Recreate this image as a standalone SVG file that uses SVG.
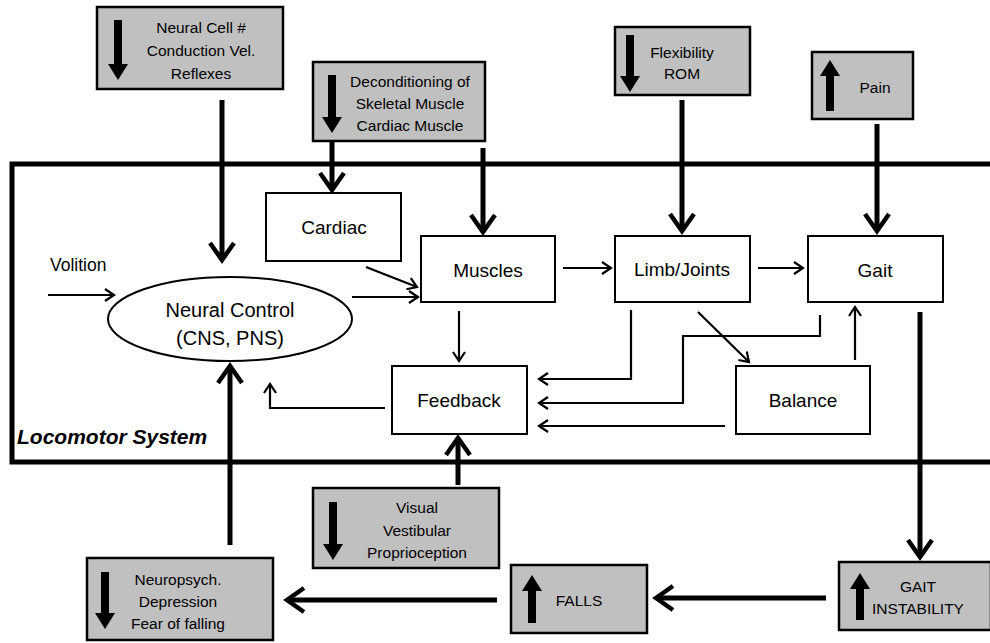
<svg xmlns="http://www.w3.org/2000/svg" width="990" height="643" viewBox="0 0 990 643">
  <defs>
    <style>
      text { font-family: "Liberation Sans", Arial, sans-serif; fill: #000; text-anchor: middle; }
      .gray { fill: #c0c0c0; stroke: #000; stroke-width: 2.5; }
      .box { fill: #fff; stroke: #000; stroke-width: 2; }
      .big { font-size: 19px; }
      .small { font-size: 15.5px; }
      .block { fill: #000; stroke: none; }
      .thick { fill: none; stroke: #000; stroke-width: 5; marker-end: url(#headThick); }
      .thin { fill: none; stroke: #000; stroke-width: 2.2; marker-end: url(#headThin); }
      .frame { fill: none; stroke: #000; stroke-width: 5; }
    </style>
    <marker id="headThick" viewBox="0 0 26 28" refX="20" refY="14" markerWidth="26" markerHeight="28" markerUnits="userSpaceOnUse" orient="auto">
      <path d="M3,2 L20,14 L3,26" fill="none" stroke="#000" stroke-width="4.5"/>
    </marker>
    <marker id="headThin" viewBox="0 0 14 16" refX="11" refY="8" markerWidth="14" markerHeight="16" markerUnits="userSpaceOnUse" orient="auto">
      <path d="M2,2 L11,8 L2,14" fill="none" stroke="#000" stroke-width="2.2"/>
    </marker>
  </defs>

  <!-- Locomotor system frame -->
  <rect class="frame" x="12" y="164" width="990" height="298"/>
  <text x="17" y="444" style="font-size:21px;font-weight:bold;font-style:italic;text-anchor:start">Locomotor System</text>

  <!-- connectors -->
  <g id="connectors">
    <path class="thick" d="M222,100 V260"/>
    <path class="thick" d="M332,141 V190"/>
    <path class="thick" d="M483,148 V232"/>
    <path class="thick" d="M682,100 V231"/>
    <path class="thick" d="M877,124 V231"/>
    <path class="thick" d="M920,312 V557"/>
    <path class="thick" d="M826,598 H656"/>
    <path class="thick" d="M497,600 H287"/>
    <path class="thick" d="M230,545 V366"/>
    <path class="thick" d="M458,485 V438"/>

    <path class="thin" d="M48,295 H114"/>
    <path class="thin" d="M366,267 L417,287"/>
    <path class="thin" d="M352,297 H418"/>
    <path class="thin" d="M563,268 H611"/>
    <path class="thin" d="M758,268 H803"/>
    <path class="thin" d="M459,311 V361"/>
    <path class="thin" d="M631,310 V379 H539"/>
    <path class="thin" d="M820,315 V336 H683 V403 H539"/>
    <path class="thin" d="M698,312 L749,362"/>
    <path class="thin" d="M855,360 V307"/>
    <path class="thin" d="M725,426 H539"/>
    <path class="thin" d="M385,408 H270 V384"/>
  </g>
  <text x="50" y="271" style="text-anchor:start;font-size:17.5px">Volition</text>

  <!-- locomotor components -->
  <g id="neural">
    <ellipse cx="230" cy="319" rx="122" ry="42" fill="#fff" stroke="#000" stroke-width="2"/>
    <text x="230" y="317" style="font-size:20px">Neural Control</text>
    <text x="230" y="345" style="font-size:20px">(CNS, PNS)</text>
  </g>
  <g id="cardiac">
    <rect class="box" x="266" y="193" width="135" height="68"/>
    <text x="334" y="234" class="big">Cardiac</text>
  </g>
  <g id="muscles">
    <rect class="box" x="421" y="236" width="134" height="66"/>
    <text x="488" y="277" class="big">Muscles</text>
  </g>
  <g id="limbs">
    <rect class="box" x="615" y="236" width="135" height="66"/>
    <text x="682" y="276" class="big">Limb/Joints</text>
  </g>
  <g id="gait">
    <rect class="box" x="808" y="236" width="135" height="66"/>
    <text x="875" y="277" class="big">Gait</text>
  </g>
  <g id="feedback">
    <rect class="box" x="392" y="366" width="135" height="68"/>
    <text x="459" y="407" class="big">Feedback</text>
  </g>
  <g id="balance">
    <rect class="box" x="736" y="366" width="134" height="68"/>
    <text x="803" y="407" class="big">Balance</text>
  </g>

  <!-- contributing factors (block arrows show decrease / increase) -->
  <g id="neuralCell">
    <rect class="gray" x="97" y="7" width="186" height="82"/>
    <path class="block" d="M114,20 H122 V64 H128 L118,80 L108,64 H114 Z"/>
    <text x="201" y="33" class="small">Neural Cell #</text>
    <text x="201" y="56" class="small">Conduction Vel.</text>
    <text x="201" y="79" class="small">Reflexes</text>
  </g>
  <g id="deconditioning">
    <rect class="gray" x="313" y="62" width="172" height="79"/>
    <path class="block" d="M328,75 H336 V117 H342 L332,133 L322,117 H328 Z"/>
    <text x="410" y="87" class="small">Deconditioning of</text>
    <text x="410" y="109" class="small">Skeletal Muscle</text>
    <text x="410" y="131" class="small">Cardiac Muscle</text>
  </g>
  <g id="flexibility">
    <rect class="gray" x="615" y="27" width="135" height="68"/>
    <path class="block" d="M626,35 H634 V76 H640 L630,92 L620,76 H626 Z"/>
    <text x="682" y="58" class="small">Flexibility</text>
    <text x="682" y="79" class="small">ROM</text>
  </g>
  <g id="pain">
    <rect class="gray" x="812" y="52" width="101" height="67"/>
    <path class="block" d="M826,111 H834 V76 H840 L830,60 L820,76 H826 Z"/>
    <text x="875" y="93" class="small">Pain</text>
  </g>
  <g id="sensory">
    <rect class="gray" x="313" y="488" width="186" height="80"/>
    <path class="block" d="M329,502 H337 V544 H343 L333,560 L323,544 H329 Z"/>
    <text x="417" y="513" class="small">Visual</text>
    <text x="417" y="536" class="small">Vestibular</text>
    <text x="417" y="558" class="small">Proprioception</text>
  </g>
  <g id="neuropsych">
    <rect class="gray" x="87" y="558" width="186" height="82"/>
    <path class="block" d="M101,572 H109 V613 H115 L105,629 L95,613 H101 Z"/>
    <text x="178" y="585" class="small">Neuropsych.</text>
    <text x="178" y="607" class="small">Depression</text>
    <text x="178" y="629" class="small">Fear of falling</text>
  </g>
  <g id="falls">
    <rect class="gray" x="511" y="565" width="136" height="68"/>
    <path class="block" d="M528,623 H536 V591 H542 L532,575 L522,591 H528 Z"/>
    <text x="579" y="606" class="small">FALLS</text>
  </g>
  <g id="gaitInstability">
    <rect class="gray" x="839" y="562" width="152" height="68"/>
    <path class="block" d="M856,620 H864 V589 H870 L860,573 L850,589 H856 Z"/>
    <text x="918" y="592" class="small">GAIT</text>
    <text x="918" y="614" class="small">INSTABILITY</text>
  </g>
</svg>
